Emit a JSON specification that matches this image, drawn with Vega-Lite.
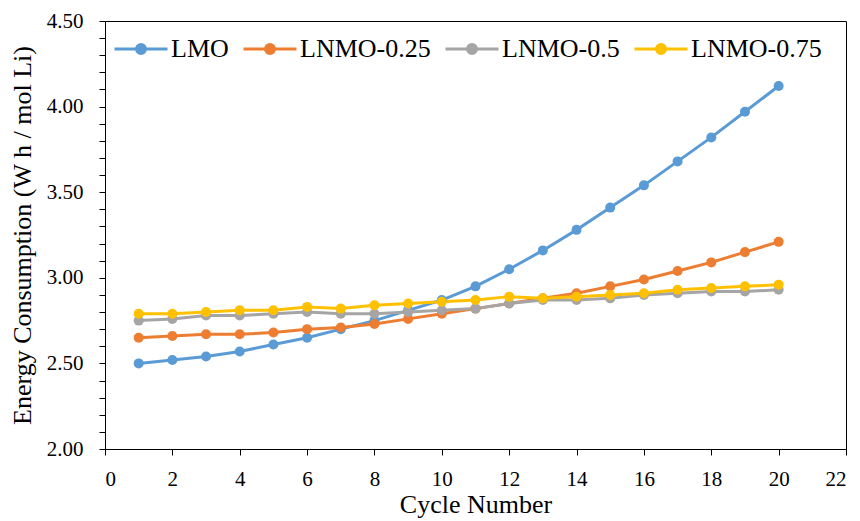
{
  "$schema": "https://vega.github.io/schema/vega-lite/v6.json",
  "width": 741,
  "height": 428,
  "autosize": {"type": "none"},
  "padding": {"left": 105, "top": 21, "right": 14, "bottom": 72},
  "background": "white",
  "config": {
    "view": {"stroke": "#000000", "strokeWidth": 1},
    "font": "Liberation Serif, serif",
    "style": {
      "guide-label": {"font": "Liberation Serif, serif", "fill": "#000000"},
      "guide-title": {"font": "Liberation Serif, serif", "fill": "#000000"}
    },
    "legend": {"labelFont": "Liberation Serif, serif"},
    "axis": {
      "labelFont": "Liberation Serif, serif",
      "titleFont": "Liberation Serif, serif",
      "labelColor": "#000000",
      "titleColor": "#000000",
      "domainColor": "#000000",
      "tickColor": "#000000",
      "grid": false,
      "labelFontSize": 21,
      "titleFontSize": 26,
      "titleFontWeight": "normal",
      "tickSize": 6
    }
  },
  "data": {
    "values": [
      {"cycle": 1, "series": "LMO", "value": 2.50},
      {"cycle": 2, "series": "LMO", "value": 2.52},
      {"cycle": 3, "series": "LMO", "value": 2.54},
      {"cycle": 4, "series": "LMO", "value": 2.57},
      {"cycle": 5, "series": "LMO", "value": 2.61},
      {"cycle": 6, "series": "LMO", "value": 2.65},
      {"cycle": 7, "series": "LMO", "value": 2.70},
      {"cycle": 8, "series": "LMO", "value": 2.75},
      {"cycle": 9, "series": "LMO", "value": 2.81},
      {"cycle": 10, "series": "LMO", "value": 2.87},
      {"cycle": 11, "series": "LMO", "value": 2.95},
      {"cycle": 12, "series": "LMO", "value": 3.05},
      {"cycle": 13, "series": "LMO", "value": 3.16},
      {"cycle": 14, "series": "LMO", "value": 3.28},
      {"cycle": 15, "series": "LMO", "value": 3.41},
      {"cycle": 16, "series": "LMO", "value": 3.54},
      {"cycle": 17, "series": "LMO", "value": 3.68},
      {"cycle": 18, "series": "LMO", "value": 3.82},
      {"cycle": 19, "series": "LMO", "value": 3.97},
      {"cycle": 20, "series": "LMO", "value": 4.12},
      {"cycle": 1, "series": "LNMO-0.25", "value": 2.65},
      {"cycle": 2, "series": "LNMO-0.25", "value": 2.66},
      {"cycle": 3, "series": "LNMO-0.25", "value": 2.67},
      {"cycle": 4, "series": "LNMO-0.25", "value": 2.67},
      {"cycle": 5, "series": "LNMO-0.25", "value": 2.68},
      {"cycle": 6, "series": "LNMO-0.25", "value": 2.70},
      {"cycle": 7, "series": "LNMO-0.25", "value": 2.71},
      {"cycle": 8, "series": "LNMO-0.25", "value": 2.73},
      {"cycle": 9, "series": "LNMO-0.25", "value": 2.76},
      {"cycle": 10, "series": "LNMO-0.25", "value": 2.79},
      {"cycle": 11, "series": "LNMO-0.25", "value": 2.82},
      {"cycle": 12, "series": "LNMO-0.25", "value": 2.85},
      {"cycle": 13, "series": "LNMO-0.25", "value": 2.88},
      {"cycle": 14, "series": "LNMO-0.25", "value": 2.91},
      {"cycle": 15, "series": "LNMO-0.25", "value": 2.95},
      {"cycle": 16, "series": "LNMO-0.25", "value": 2.99},
      {"cycle": 17, "series": "LNMO-0.25", "value": 3.04},
      {"cycle": 18, "series": "LNMO-0.25", "value": 3.09},
      {"cycle": 19, "series": "LNMO-0.25", "value": 3.15},
      {"cycle": 20, "series": "LNMO-0.25", "value": 3.21},
      {"cycle": 1, "series": "LNMO-0.5", "value": 2.75},
      {"cycle": 2, "series": "LNMO-0.5", "value": 2.76},
      {"cycle": 3, "series": "LNMO-0.5", "value": 2.78},
      {"cycle": 4, "series": "LNMO-0.5", "value": 2.78},
      {"cycle": 5, "series": "LNMO-0.5", "value": 2.79},
      {"cycle": 6, "series": "LNMO-0.5", "value": 2.80},
      {"cycle": 7, "series": "LNMO-0.5", "value": 2.79},
      {"cycle": 8, "series": "LNMO-0.5", "value": 2.79},
      {"cycle": 9, "series": "LNMO-0.5", "value": 2.80},
      {"cycle": 10, "series": "LNMO-0.5", "value": 2.81},
      {"cycle": 11, "series": "LNMO-0.5", "value": 2.82},
      {"cycle": 12, "series": "LNMO-0.5", "value": 2.85},
      {"cycle": 13, "series": "LNMO-0.5", "value": 2.87},
      {"cycle": 14, "series": "LNMO-0.5", "value": 2.87},
      {"cycle": 15, "series": "LNMO-0.5", "value": 2.88},
      {"cycle": 16, "series": "LNMO-0.5", "value": 2.90},
      {"cycle": 17, "series": "LNMO-0.5", "value": 2.91},
      {"cycle": 18, "series": "LNMO-0.5", "value": 2.92},
      {"cycle": 19, "series": "LNMO-0.5", "value": 2.92},
      {"cycle": 20, "series": "LNMO-0.5", "value": 2.93},
      {"cycle": 1, "series": "LNMO-0.75", "value": 2.79},
      {"cycle": 2, "series": "LNMO-0.75", "value": 2.79},
      {"cycle": 3, "series": "LNMO-0.75", "value": 2.80},
      {"cycle": 4, "series": "LNMO-0.75", "value": 2.81},
      {"cycle": 5, "series": "LNMO-0.75", "value": 2.81},
      {"cycle": 6, "series": "LNMO-0.75", "value": 2.83},
      {"cycle": 7, "series": "LNMO-0.75", "value": 2.82},
      {"cycle": 8, "series": "LNMO-0.75", "value": 2.84},
      {"cycle": 9, "series": "LNMO-0.75", "value": 2.85},
      {"cycle": 10, "series": "LNMO-0.75", "value": 2.86},
      {"cycle": 11, "series": "LNMO-0.75", "value": 2.87},
      {"cycle": 12, "series": "LNMO-0.75", "value": 2.89},
      {"cycle": 13, "series": "LNMO-0.75", "value": 2.88},
      {"cycle": 14, "series": "LNMO-0.75", "value": 2.89},
      {"cycle": 15, "series": "LNMO-0.75", "value": 2.90},
      {"cycle": 16, "series": "LNMO-0.75", "value": 2.91},
      {"cycle": 17, "series": "LNMO-0.75", "value": 2.93},
      {"cycle": 18, "series": "LNMO-0.75", "value": 2.94},
      {"cycle": 19, "series": "LNMO-0.75", "value": 2.95},
      {"cycle": 20, "series": "LNMO-0.75", "value": 2.96}
    ]
  },
  "mark": {"type": "line", "strokeWidth": 3, "point": {"filled": true, "size": 100}},
  "encoding": {
    "x": {
      "field": "cycle",
      "type": "quantitative",
      "scale": {"domain": [0, 22], "nice": false},
      "axis": {
        "title": "Cycle Number",
        "values": [0, 2, 4, 6, 8, 10, 12, 14, 16, 18, 20, 22],
        "labelFont": "Liberation Serif, serif",
        "labelPadding": 13,
        "titlePadding": 2
      }
    },
    "y": {
      "field": "value",
      "type": "quantitative",
      "scale": {"domain": [2, 4.5], "nice": false, "zero": false},
      "axis": {
        "title": "Energy Consumption (W h / mol Li)",
        "values": [2.0, 2.1, 2.2, 2.3, 2.4, 2.5, 2.6, 2.7, 2.8, 2.9, 3.0, 3.1, 3.2, 3.3, 3.4, 3.5, 3.6, 3.7, 3.8, 3.9, 4.0, 4.1, 4.2, 4.3, 4.4, 4.5],
        "labelExpr": "abs(datum.value * 2 - round(datum.value * 2)) < 0.001 ? format(datum.value, '.2f') : ''",
        "labelFont": "Liberation Serif, serif",
        "labelPadding": 16,
        "titlePadding": 11
      }
    },
    "color": {
      "field": "series",
      "type": "nominal",
      "scale": {
        "domain": ["LMO", "LNMO-0.25", "LNMO-0.5", "LNMO-0.75"],
        "range": ["#5B9BD5", "#ED7D31", "#A5A5A5", "#FFC000"]
      },
      "legend": {
        "title": null,
        "orient": "none",
        "direction": "horizontal",
        "legendX": 8,
        "legendY": 0,
        "padding": 0,
        "labelFont": "Liberation Serif, serif",
        "labelFontSize": 26,
        "labelColor": "#000000",
        "labelOffset": 2,
        "columnPadding": 8,
        "symbolType": "M-1,0H1M-0.17,0A0.17,0.17,0,1,1,0.17,0A0.17,0.17,0,1,1,-0.17,0Z",
        "symbolSize": 2809,
        "symbolStrokeWidth": 3,
        "encode": {
          "symbols": {
            "update": {
              "fill": {"scale": "color", "field": "value"},
              "fillOpacity": {"value": 1}
            }
          },
          "labels": {
            "update": {
              "font": {"value": "Liberation Serif, serif"}
            }
          }
        }
      }
    }
  }
}
